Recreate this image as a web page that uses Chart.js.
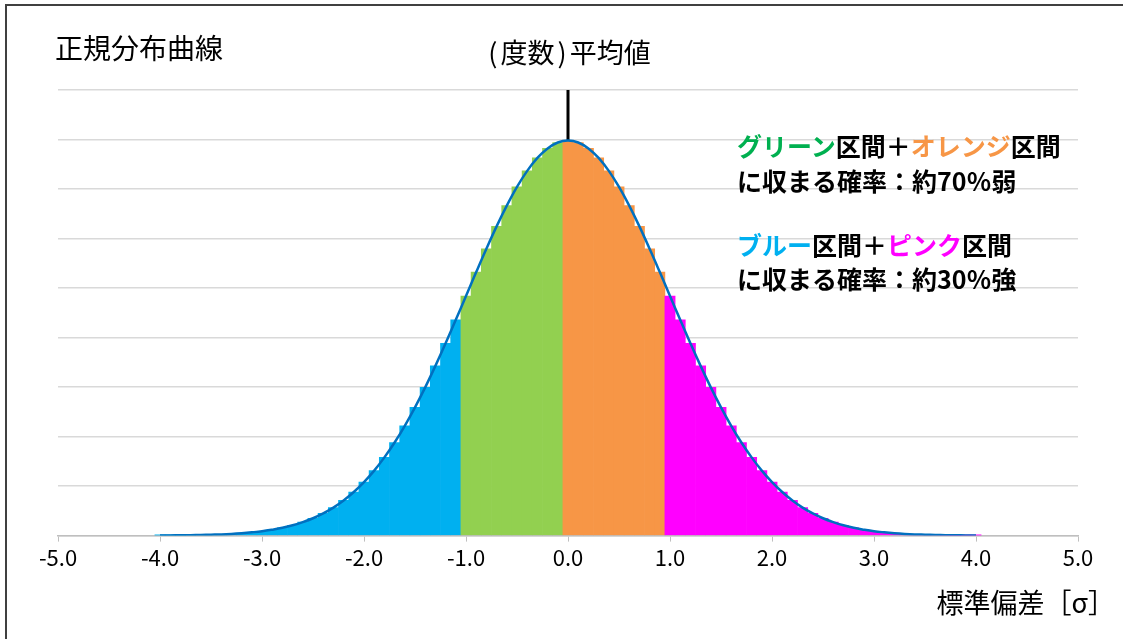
<!DOCTYPE html>
<html>
<head>
<meta charset="utf-8">
<script src="https://cdn.jsdelivr.net/npm/chart.js@4.4.1/dist/chart.umd.min.js"></script>
<style>
  html, body { margin: 0; padding: 0; background: #fff; }
  #wrap { position: relative; width: 1123px; height: 639px; overflow: hidden; font-family: "Noto Sans CJK JP", sans-serif; color: #000; }
  #frame { position: absolute; left: 5px; top: 4px; width: 1200px; height: 700px; border-top: 2px solid #404040; border-left: 2px solid #404040; }
  .txt { position: absolute; white-space: nowrap; line-height: 1; }
  #title { left: 55px; top: 33px; font-size: 28px; }
  #mean { left: 568px; top: 38px; font-size: 27px; transform: translateX(-50%); }
  #mean .p { margin: 0 3px; }
  #xtitle { right: 8px; top: 588px; font-size: 27px; }
  .note { left: 737px; font-size: 25px; font-weight: bold; }
  canvas { position: absolute; left: 0; top: 0; }
</style>
</head>
<body>
<div id="wrap">
  <div id="frame"></div>
  <canvas id="chartNormal" width="1123" height="639"></canvas>
  <div class="txt" id="title">正規分布曲線</div>
  <div class="txt" id="mean"><span class="p">(</span>度数<span class="p">)</span>平均値</div>
  <div class="txt" id="xtitle">標準偏差［σ］</div>
  <div class="txt note" style="top:133px"><span style="color:#00B050">グリーン</span>区間＋<span style="color:#F79646">オレンジ</span>区間</div>
  <div class="txt note" style="top:168px">に収まる確率：約70％弱</div>
  <div class="txt note" style="top:232px"><span style="color:#00B0F0">ブルー</span>区間＋<span style="color:#FF00FF">ピンク</span>区間</div>
  <div class="txt note" style="top:266px">に収まる確率：約30％強</div>
</div>
<script>
// standard deviation positions (bar centres, step 0.1)
const sigma = [
  -4.0, -3.9, -3.8, -3.7, -3.6, -3.5, -3.4, -3.3, -3.2, -3.1,
  -3.0, -2.9, -2.8, -2.7, -2.6, -2.5, -2.4, -2.3, -2.2, -2.1,
  -2.0, -1.9, -1.8, -1.7, -1.6, -1.5, -1.4, -1.3, -1.2, -1.1,
  -1.0, -0.9, -0.8, -0.7, -0.6, -0.5, -0.4, -0.3, -0.2, -0.1,
  0.0, 0.1, 0.2, 0.3, 0.4, 0.5, 0.6, 0.7, 0.8, 0.9,
  1.0, 1.1, 1.2, 1.3, 1.4, 1.5, 1.6, 1.7, 1.8, 1.9,
  2.0, 2.1, 2.2, 2.3, 2.4, 2.5, 2.6, 2.7, 2.8, 2.9,
  3.0, 3.1, 3.2, 3.3, 3.4, 3.5, 3.6, 3.7, 3.8, 3.9,
  4.0
];

// frequency (density) at each position
const density = [
  0.0001, 0.0002, 0.0003, 0.0004, 0.0006, 0.0009, 0.0012, 0.0017, 0.0024, 0.0033,
  0.0044, 0.0060, 0.0079, 0.0104, 0.0136, 0.0175, 0.0224, 0.0283, 0.0355, 0.0440,
  0.0540, 0.0656, 0.0790, 0.0940, 0.1109, 0.1295, 0.1497, 0.1714, 0.1942, 0.2179,
  0.2420, 0.2661, 0.2897, 0.3123, 0.3332, 0.3521, 0.3683, 0.3814, 0.3910, 0.3970,
  0.3989, 0.3970, 0.3910, 0.3814, 0.3683, 0.3521, 0.3332, 0.3123, 0.2897, 0.2661,
  0.2420, 0.2179, 0.1942, 0.1714, 0.1497, 0.1295, 0.1109, 0.0940, 0.0790, 0.0656,
  0.0540, 0.0440, 0.0355, 0.0283, 0.0224, 0.0175, 0.0136, 0.0104, 0.0079, 0.0060,
  0.0044, 0.0033, 0.0024, 0.0017, 0.0012, 0.0009, 0.0006, 0.0004, 0.0003, 0.0002,
  0.0001
];

const meanLine = [0.3989, 0.45];
const xTicks = [-5, 5];

const barPoints = sigma.map((s, i) => ({x: s, y: density[i]}));

function barColor(ctx) {
  const x = ctx.raw ? ctx.raw.x : 0;
  if (x < -1.05) return '#00B0F0';
  if (x < -0.05) return '#92D050';
  if (x < 0.95) return '#F79646';
  return '#FF00FF';
}

new Chart(document.getElementById('chartNormal'), {
  data: {
    datasets: [{
      type: 'line',
      data: barPoints,
      borderColor: '#0070C0',
      borderWidth: 2.5,
      pointRadius: 0,
      tension: 0.4,
      order: 0
    }, {
      type: 'line',
      data: [{x: 0, y: meanLine[0]}, {x: 0, y: meanLine[1]}],
      borderColor: '#000000',
      borderWidth: 3,
      pointRadius: 0,
      order: 0
    }, {
      type: 'bar',
      data: barPoints,
      backgroundColor: barColor,
      borderWidth: 0,
      barPercentage: 1,
      categoryPercentage: 1,
      order: 1
    }]
  },
  options: {
    responsive: false,
    animation: false,
    layout: {
      padding: {left: 58, right: 45, top: 90, bottom: 65}
    },
    plugins: {
      legend: {display: false},
      tooltip: {enabled: false}
    },
    scales: {
      x: {
        type: 'linear',
        offset: false,
        min: xTicks[0],
        max: xTicks[1],
        ticks: {
          stepSize: 1,
          color: '#000',
          font: {family: '"Noto Sans CJK JP", sans-serif', size: 22},
          callback: v => v.toFixed(1)
        },
        grid: {offset: false, drawOnChartArea: false, drawTicks: true, tickLength: 6, color: '#BFBFBF'},
        border: {color: '#BFBFBF', width: 1.5}
      },
      y: {
        min: 0,
        max: 0.45,
        ticks: {display: false, stepSize: 0.05},
        grid: {drawTicks: false, color: '#D9D9D9', lineWidth: 1.5},
        border: {display: false}
      }
    }
  }
});
</script>
</body>
</html>
